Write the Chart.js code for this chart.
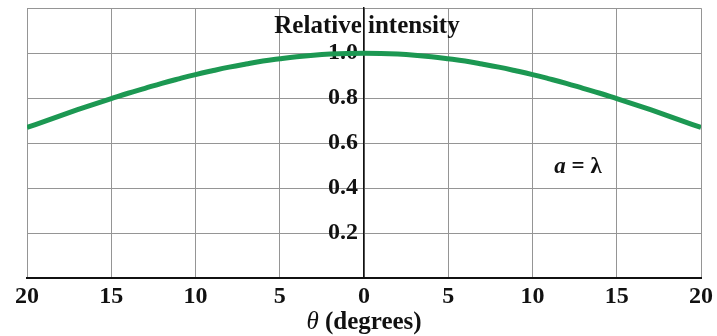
<!DOCTYPE html>
<html>
<head>
<meta charset="utf-8">
<script src="https://cdn.jsdelivr.net/npm/chart.js@4.4.1/dist/chart.umd.min.js"></script>
<style>
  body { margin: 0; background: #fff; }
  #wrap { position: relative; width: 717px; height: 336px; font-family: "Liberation Serif", serif; }
  .lbl { position: absolute; color: #111; white-space: nowrap; transform: translate(-50%, -50%); font-weight: bold; }
</style>
</head>
<body>
<div id="wrap">
  <canvas id="myChart" width="717" height="336"></canvas>
  <div class="lbl" style="left:367px; top:25px; font-size:25px;">Relative intensity</div>
  <div class="lbl" style="left:578px; top:166px; font-size:23px;"><i>a</i> = λ</div>
  <div class="lbl" style="left:364px; top:321px; font-size:25px;"><i style="font-weight:normal">θ</i> (degrees)</div>
</div>
<script>
// angulo em graus e intensidade relativa (a = lambda)
var theta = [-20, -19, -18, -17, -16, -15, -14, -13, -12, -11, -10, -9, -8, -7, -6, -5, -4, -3, -2, -1,
    0, 1, 2, 3, 4, 5, 6, 7, 8, 9, 10, 11, 12, 13, 14, 15, 16, 17, 18, 19, 20];
var intensidade = [0.670, 0.696, 0.723, 0.749, 0.774, 0.798, 0.822, 0.844, 0.866, 0.886, 0.905, 0.922, 0.938, 0.952, 0.965, 0.975, 0.984, 0.991, 0.996, 0.999,
    1.000, 0.999, 0.996, 0.991, 0.984, 0.975, 0.965, 0.952, 0.938, 0.922, 0.905, 0.886, 0.866, 0.844, 0.822, 0.798, 0.774, 0.749, 0.723, 0.696, 0.670];
var yTicksShown = [0.2, 0.4, 0.6, 0.8, 1.0];

var pontos = [];
for (var i = 0; i < theta.length; i++) {
    pontos.push({ x: theta[i], y: intensidade[i] });
}

var cinza = '#959595';

const ctx = document.getElementById('myChart');

new Chart(ctx, {
    type: 'line',
    data: {
        datasets: [{
            data: pontos,
            borderColor: 'rgb(28, 152, 82)',
            borderWidth: 5,
            pointRadius: 0,
            tension: 0.4,
            fill: false
        }]
    },
    options: {
        responsive: false,
        animation: false,
        layout: { padding: { left: 27, right: 12, top: 0, bottom: 21 } },
        plugins: { legend: { display: false }, tooltip: { enabled: false } },
        scales: {
            x: {
                type: 'linear',
                min: -20,
                max: 20,
                ticks: {
                    stepSize: 5,
                    color: '#111',
                    font: { family: 'Liberation Serif', size: 24, weight: 'bold' },
                    padding: 4,
                    callback: function (v) { return Math.abs(v); }
                },
                grid: { color: cinza, lineWidth: 1, drawTicks: false },
                border: { color: '#111', width: 2 }
            },
            y: {
                position: { x: 0 },
                min: 0,
                max: 1.2,
                ticks: {
                    stepSize: 0.2,
                    color: '#111',
                    font: { family: 'Liberation Serif', size: 24, weight: 'bold', lineHeight: 0.1 },
                    padding: 7,
                    callback: function (v) {
                        // espaco no fim afasta o rotulo do eixo central
                        for (var k = 0; k < yTicksShown.length; k++) {
                            if (Math.abs(v - yTicksShown[k]) < 1e-6) return v.toFixed(1) + ' ';
                        }
                        return '';
                    }
                },
                grid: { color: cinza, lineWidth: 1, drawTicks: false },
                border: { color: '#111', width: 1.5 }
            }
        }
    }
});
</script>
</body>
</html>
